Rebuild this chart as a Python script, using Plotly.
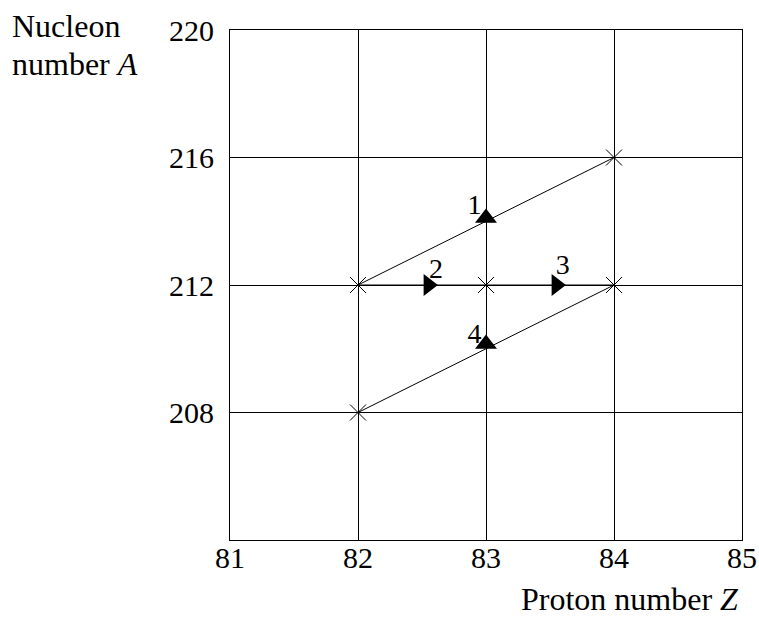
import plotly.graph_objects as go

# Data
nuclide_Z = [84, 82, 83, 84, 82]
nuclide_A = [216, 212, 212, 212, 208]

path1_Z = [84, 82]
path1_A = [216, 212]
path23_Z = [82, 84]
path23_A = [212, 212]
path4_Z = [84, 82]
path4_A = [212, 208]

arrow_up_Z = [83, 83]
arrow_up_A = [214.1, 210.15]
arrow_right_Z = [82.55, 83.55]
arrow_right_A = [212, 212]

label_text = ["1", "2", "3", "4"]
label_Z = [82.91, 82.61, 83.6, 82.91]
label_A = [214.45, 212.45, 212.55, 210.4]

x_ticks = [81, 82, 83, 84, 85]
y_ticks = [208, 212, 216, 220]

FONT = "Liberation Serif, Times New Roman, serif"

fig = go.Figure()
for zs, as_ in [(path1_Z, path1_A), (path23_Z, path23_A), (path4_Z, path4_A)]:
    fig.add_trace(go.Scatter(x=zs, y=as_, mode="lines",
                             line=dict(color="black", width=1), hoverinfo="skip"))
fig.add_trace(go.Scatter(x=nuclide_Z, y=nuclide_A, mode="markers",
                         marker=dict(symbol="x-thin", size=16, line=dict(color="black", width=1))))
fig.add_trace(go.Scatter(x=arrow_up_Z, y=arrow_up_A, mode="markers",
                         marker=dict(symbol="triangle-up", size=19, color="black")))
fig.add_trace(go.Scatter(x=arrow_right_Z, y=arrow_right_A, mode="markers",
                         marker=dict(symbol="triangle-right", size=19, color="black")))
fig.add_trace(go.Scatter(x=label_Z, y=label_A, mode="text", text=label_text,
                         textfont=dict(family=FONT, size=28, color="black")))

fig.update_layout(
    autosize=False,
    width=759, height=618,
    margin=dict(l=230, r=17, t=30, b=78),
    paper_bgcolor="white", plot_bgcolor="white",
    showlegend=False,
    font=dict(family=FONT, size=30, color="black"),
    xaxis=dict(range=[81, 85], tickvals=x_ticks, showgrid=True, gridcolor="black", gridwidth=1,
               showline=True, linecolor="black", linewidth=1, mirror=True, ticks="",
               zeroline=False, automargin=False, ticklabelstandoff=-9, ticklabeloverflow="allow",
               tickfont=dict(family=FONT, size=30, color="black")),
    yaxis=dict(range=[204, 220], tickvals=y_ticks, showgrid=True, gridcolor="black", gridwidth=1,
               showline=True, linecolor="black", linewidth=1, mirror=True, ticks="",
               zeroline=False, automargin=False, ticklabelstandoff=9,
               tickfont=dict(family=FONT, size=30, color="black")),
    annotations=[
        dict(text="Proton number <i>Z</i>", xref="paper", yref="paper", x=0.996, y=-0.153,
             xanchor="right", yanchor="bottom", showarrow=False, borderpad=0,
             font=dict(family=FONT, size=32, color="black")),
        dict(text="Nucleon", xref="paper", yref="paper", x=-0.4297, y=1.0078,
             xanchor="left", yanchor="middle", align="left", showarrow=False,
             font=dict(family=FONT, size=32, color="black")),
        dict(text="number <i>A</i>", xref="paper", yref="paper", x=-0.4297, y=0.9333,
             xanchor="left", yanchor="middle", align="left", showarrow=False,
             font=dict(family=FONT, size=32, color="black")),
    ],
)

fig.write_html(
    "out.html",
    config={"displayModeBar": False, "responsive": False},
    post_script="document.body.style.margin='0px';document.body.style.overflow='hidden';",
)
